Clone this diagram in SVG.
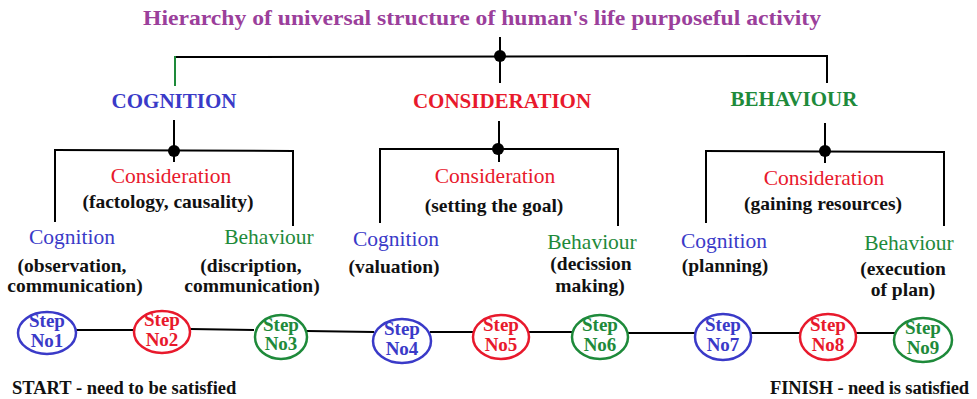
<svg xmlns="http://www.w3.org/2000/svg" width="977" height="399" viewBox="0 0 977 399" font-family="'Liberation Serif', 'DejaVu Serif', 'Noto Serif', serif">
<style>
.ln{stroke:#000;stroke-width:2;fill:none}
.dot{fill:#000}
text{font-family:'Liberation Serif','DejaVu Serif','Noto Serif',serif}
.t{text-anchor:middle}
.b{font-weight:bold}
.lbl{font-size:21.5px}
.sub{font-size:19.5px;font-weight:bold;fill:#111}
.head{font-size:21px;font-weight:bold}
.blue{fill:#3a3ac8}
.red{fill:#e8192c}
.green{fill:#1e8a3a}
.step{stroke-width:2.5;fill:#fff}
.sb{stroke:#3a3ac8}.sr{stroke:#e8192c}.sg{stroke:#1e8a3a}
.st{font-size:19px;font-weight:bold}
.foot{font-size:18.5px;font-weight:bold;fill:#111}
</style>
<rect width="977" height="399" fill="#fff"/>
<g id="title"><text class="t b" x="482" y="25" font-size="22" fill="#9b3f9b" textLength="678" lengthAdjust="spacingAndGlyphs">Hierarchy of universal structure of human's life purposeful activity</text></g>
<g id="connectors">
<line class="ln" x1="500" y1="37" x2="500" y2="83"/>
<line class="ln" x1="175" y1="57" x2="828" y2="56"/>
<line x1="175" y1="56" x2="175" y2="86" stroke="#1e8a3a" stroke-width="2"/>
<line class="ln" x1="827" y1="56" x2="827" y2="83"/>
<circle class="dot" cx="500" cy="56" r="6"/>
<line class="ln" x1="174" y1="120" x2="174" y2="162"/>
<line class="ln" x1="55" y1="150" x2="293" y2="151"/>
<line class="ln" x1="55" y1="149" x2="55" y2="222"/>
<line class="ln" x1="293" y1="150" x2="293" y2="226"/>
<circle class="dot" cx="174" cy="151" r="6"/>
<line class="ln" x1="499" y1="121" x2="499" y2="162"/>
<line class="ln" x1="380" y1="149" x2="619" y2="149"/>
<line class="ln" x1="380" y1="148" x2="380" y2="223"/>
<line class="ln" x1="618" y1="148" x2="618" y2="226"/>
<circle class="dot" cx="498" cy="149" r="6"/>
<line class="ln" x1="825" y1="123" x2="825" y2="163"/>
<line class="ln" x1="705" y1="151" x2="944" y2="152"/>
<line class="ln" x1="706" y1="150" x2="706" y2="223"/>
<line class="ln" x1="944" y1="151" x2="944" y2="226"/>
<circle class="dot" cx="825" cy="151" r="6"/>
<polyline class="ln" points="76,330 134,330"/>
<polyline class="ln" points="190,329 254,330"/>
<polyline class="ln" points="307,331 374,332"/>
<polyline class="ln" points="430,332 473,332"/>
<polyline class="ln" points="529,332 573,332"/>
<polyline class="ln" points="627,333 696,333"/>
<polyline class="ln" points="751,333 800,333"/>
<polyline class="ln" points="855,333 895,333"/>
</g>
<g id="cognition-top"><text class="t head blue" x="174" y="108">COGNITION</text></g>
<g id="consideration-top"><text class="t head red" x="502" y="108">CONSIDERATION</text></g>
<g id="behaviour-top"><text class="t head green" x="794" y="106">BEHAVIOUR</text></g>
<g id="s1-consideration"><text class="t lbl red" x="171" y="183">Consideration</text><text class="t sub" x="168" y="208">(factology, causality)</text></g>
<g id="s1-cognition"><text class="t lbl blue" x="72" y="244">Cognition</text><text class="t sub" x="72" y="272">(observation,</text><text class="t sub" x="75" y="292">communication)</text></g>
<g id="s1-behaviour"><text class="t lbl green" x="269" y="244">Behaviour</text><text class="t sub" x="251" y="272">(discription,</text><text class="t sub" x="252" y="292">communication)</text></g>
<g id="s2-consideration"><text class="t lbl red" x="495" y="183">Consideration</text><text class="t sub" x="494" y="212">(setting the goal)</text></g>
<g id="s2-cognition"><text class="t lbl blue" x="396" y="246">Cognition</text><text class="t sub" x="394" y="273">(valuation)</text></g>
<g id="s2-behaviour"><text class="t lbl green" x="592" y="249">Behaviour</text><text class="t sub" x="591" y="270">(decission</text><text class="t sub" x="590" y="292">making)</text></g>
<g id="s3-consideration"><text class="t lbl red" x="824" y="185">Consideration</text><text class="t sub" x="823" y="210">(gaining resources)</text></g>
<g id="s3-cognition"><text class="t lbl blue" x="724" y="248">Cognition</text><text class="t sub" x="725" y="272">(planning)</text></g>
<g id="s3-behaviour"><text class="t lbl green" x="909" y="250">Behaviour</text><text class="t sub" x="903" y="275">(execution</text><text class="t sub" x="903" y="296">of plan)</text></g>
<g id="step1"><ellipse class="step sb" cx="47" cy="333" rx="29" ry="21"/><text class="t st blue" x="47" y="327">Step</text><text class="t st blue" x="47" y="347">No1</text></g>
<g id="step2"><ellipse class="step sr" cx="162" cy="332" rx="28" ry="21"/><text class="t st red" x="162" y="326">Step</text><text class="t st red" x="162" y="346">No2</text></g>
<g id="step3"><ellipse class="step sg" cx="281" cy="337" rx="26" ry="22"/><text class="t st green" x="281" y="331">Step</text><text class="t st green" x="281" y="350">No3</text></g>
<g id="step4"><ellipse class="step sb" cx="402" cy="341" rx="29" ry="22"/><text class="t st blue" x="402" y="335">Step</text><text class="t st blue" x="402" y="355">No4</text></g>
<g id="step5"><ellipse class="step sr" cx="501" cy="337" rx="28" ry="22"/><text class="t st red" x="501" y="331">Step</text><text class="t st red" x="501" y="351">No5</text></g>
<g id="step6"><ellipse class="step sg" cx="600" cy="337" rx="28" ry="22"/><text class="t st green" x="600" y="331">Step</text><text class="t st green" x="600" y="351">No6</text></g>
<g id="step7"><ellipse class="step sb" cx="723" cy="337" rx="28" ry="23"/><text class="t st blue" x="723" y="331">Step</text><text class="t st blue" x="723" y="351">No7</text></g>
<g id="step8"><ellipse class="step sr" cx="828" cy="337" rx="28" ry="23"/><text class="t st red" x="828" y="331">Step</text><text class="t st red" x="828" y="351">No8</text></g>
<g id="step9"><ellipse class="step sg" cx="923" cy="340" rx="29" ry="22"/><text class="t st green" x="923" y="334">Step</text><text class="t st green" x="923" y="354">No9</text></g>
<g id="start"><text class="foot" x="12" y="394">START - need to be satisfied</text></g>
<g id="finish"><text class="foot" x="770" y="394" textLength="199">FINISH - need is satisfied</text></g>
</svg>
